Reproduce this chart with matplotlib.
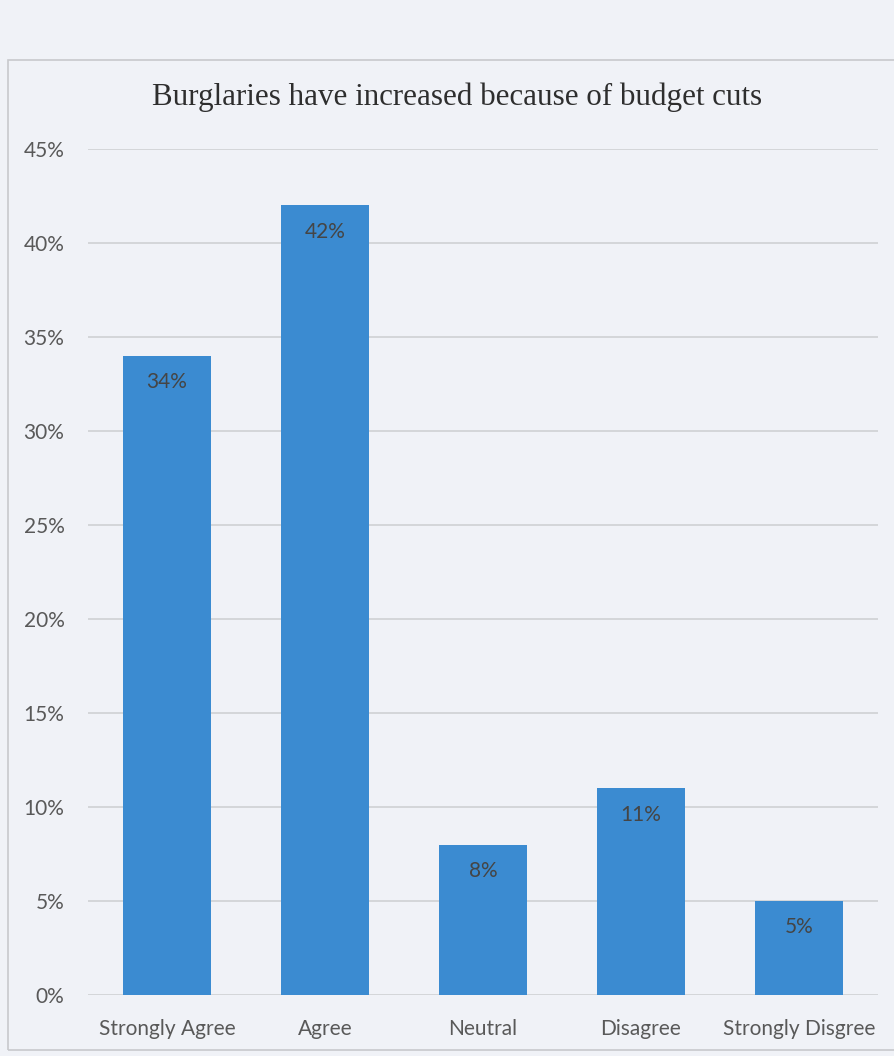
import matplotlib.pyplot as plt
from matplotlib.patches import Rectangle
from matplotlib.ticker import FuncFormatter

# survey answers, share of respondents (%)
answers = ['Strongly Agree', 'Agree', 'Neutral', 'Disagree', 'Strongly Disgree']
shares = [34, 42, 8, 11, 5]
y_ticks = [0, 5, 10, 15, 20, 25, 30, 35, 40, 45]

title = 'Burglaries have increased because of budget cuts'
bar_color = '#3b8bd1'
paper = '#f0f2f7'
text_grey = '#595959'

fig = plt.figure(figsize=(8.95, 10.56), dpi=100, facecolor=paper)
W, H = 895, 1056

# chart frame
fig.patches.append(Rectangle((8 / W, 6 / H), 1.0, (1050 - 60) / H,
                             transform=fig.transFigure, fill=False,
                             ec='#c8c9cc', lw=1.2))

ax = fig.add_axes([88 / W, 61 / H, 790 / W, 846 / H])
ax.set_facecolor(paper)

x = range(len(answers))
bars = ax.bar(x, shares, width=0.56, color=bar_color, zorder=3)

for rect, val in zip(bars, shares):
    ax.annotate(f'{val}%', (rect.get_x() + rect.get_width() / 2, rect.get_height()),
                xytext=(0, -19), textcoords='offset points',
                ha='center', va='center', fontsize=15, family='Lato',
                color='#454545', zorder=4)

ax.set_xlim(-0.5, len(answers) - 0.5)
ax.set_ylim(0, 45)
ax.set_yticks(y_ticks)
ax.yaxis.set_major_formatter(FuncFormatter(lambda v, _: f'{v:.0f}%'))
ax.set_xticks(list(x))
ax.set_xticklabels(answers)

ax.grid(axis='y', color='#d2d3d6', lw=1.3, zorder=0)
for s in ax.spines.values():
    s.set_visible(False)
ax.tick_params(axis='both', length=0, labelsize=15, labelcolor=text_grey)
ax.tick_params(axis='y', pad=17)
ax.tick_params(axis='x', pad=17)
for lab in ax.get_xticklabels() + ax.get_yticklabels():
    lab.set_family('Lato')

fig.text(457 / W, 1 - 97 / H, title, ha='center', va='center',
         family='Liberation Serif', fontsize=22.3, color='#2e2e2e')

fig.savefig('out.png', dpi=100, facecolor=paper)
